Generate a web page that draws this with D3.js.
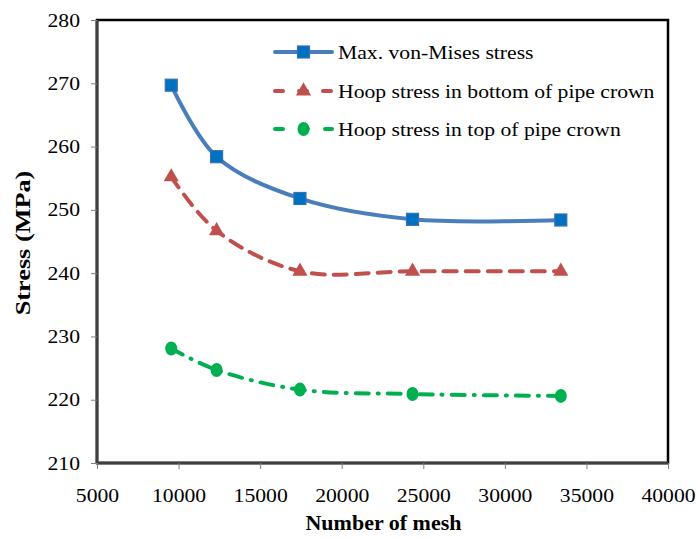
<!DOCTYPE html>
<html><head><meta charset="utf-8">
<script src="https://cdn.jsdelivr.net/npm/d3@7"></script>
<style>body{margin:0;background:#fff}svg{display:block}</style>
</head><body>
<svg id="c" width="697" height="539"></svg>
<script>
const meshX = [9550, 12330, 17440, 24340, 33430];
const vonMises = [269.7, 258.4, 251.8, 248.5, 248.4];
const hoopBottom = [255.2, 246.7, 240.3, 240.3, 240.3];
const hoopTop = [228.1, 224.7, 221.6, 220.9, 220.6];
const xTicks = [5000,10000,15000,20000,25000,30000,35000,40000];
const yTicks = [210,220,230,240,250,260,270,280];
const seriesNames = ["Max. von-Mises stress","Hoop stress in bottom of pipe crown","Hoop stress in top of pipe crown"];

const svg = d3.select("#c");
const L=97, R=668, T=20, B=463;
const x = d3.scaleLinear().domain([5000,40000]).range([L,R]);
const y = d3.scaleLinear().domain([210,280]).range([B,T]);
const font = "'Liberation Serif','Times New Roman',serif";

function stretch(sel, f){
  sel.each(function(){
    const w = this.getComputedTextLength();
    d3.select(this).attr("textLength", w*f).attr("lengthAdjust","spacingAndGlyphs");
  });
}

// frame
svg.append("rect").attr("x",L).attr("y",T).attr("width",R-L).attr("height",B-T)
  .attr("fill","none").attr("stroke","#000").attr("stroke-width",2.5);
svg.append("line").attr("x1",L).attr("x2",L).attr("y1",T).attr("y2",B+1).attr("stroke","#404040").attr("stroke-width",3);
svg.append("line").attr("x1",L-1).attr("x2",R).attr("y1",B).attr("y2",B).attr("stroke","#404040").attr("stroke-width",3);

const xa = svg.append("g").attr("transform",`translate(0,${B})`)
  .call(d3.axisBottom(x).tickValues(xTicks).tickFormat(d3.format("d")).tickSize(6).tickPadding(8));
const ya = svg.append("g").attr("transform",`translate(${L},0)`)
  .call(d3.axisLeft(y).tickValues(yTicks).tickFormat(d3.format("d")).tickSize(6).tickPadding(11));
[xa,ya].forEach(a=>{
  a.select(".domain").remove();
  a.selectAll(".tick line").attr("stroke","#808080").attr("stroke-width",1);
  a.selectAll("text").attr("font-family",font).attr("font-size",19).attr("fill","#000");
});
xa.selectAll("text").attr("dy",null).attr("y",39);
stretch(xa.selectAll("text"),1.14);
stretch(ya.selectAll("text"),1.14);

const xl = svg.append("text").attr("x",(L+R)/2+1).attr("y",530).attr("text-anchor","middle")
  .attr("font-family",font).attr("font-weight","bold").attr("font-size",20).text("Number of mesh");
stretch(xl,1.1);
const yl = svg.append("text").attr("transform",`translate(30,243) rotate(-90)`).attr("text-anchor","middle")
  .attr("font-family",font).attr("font-weight","bold").attr("font-size",21).text("Stress (MPa)");
stretch(yl,1.25);

const line = d3.line().x(d=>x(d[0])).y(d=>y(d[1])).curve(d3.curveCatmullRom.alpha(0.5));
const blue="#4A7EBB", red="#C0504D", green="#00B050";
const series = [
  {vals:vonMises, color:blue, dash:null, marker:"square", mfill:"#0070C0", name:seriesNames[0]},
  {vals:hoopBottom, color:red, dash:"13,9", marker:"triangle", mfill:red, name:seriesNames[1]},
  {vals:hoopTop, color:green, dash:"13,9,1,9", marker:"circle", mfill:green, name:seriesNames[2]}
];
function drawMarker(g, type, cx, cy, fill){
  if(type==="square"){
    g.append("rect").attr("x",cx-6).attr("y",cy-6).attr("width",12).attr("height",12)
      .attr("fill",fill).attr("stroke","#3A6FB0").attr("stroke-width",1.2);
  } else if(type==="triangle"){
    g.append("path").attr("d",d3.symbol().type(d3.symbolTriangle).size(100)())
      .attr("transform",`translate(${cx},${cy})`).attr("fill",fill);
  } else {
    g.append("ellipse").attr("cx",cx).attr("cy",cy).attr("rx",6).attr("ry",7).attr("fill",fill);
  }
}
series.forEach(s=>{
  const pts = meshX.map((m,i)=>[m,s.vals[i]]);
  const p = svg.append("path").datum(pts).attr("d",line).attr("fill","none")
    .attr("stroke",s.color).attr("stroke-width",4).attr("stroke-linecap","round");
  if(s.dash) p.attr("stroke-dasharray",s.dash);
  const g = svg.append("g");
  pts.forEach(d=>drawMarker(g,s.marker,x(d[0]),y(d[1]),s.mfill));
});

// legend
const lg = svg.append("g");
const rowsY=[52,91,129];
series.forEach((s,i)=>{
  const yy=rowsY[i];
  const l = lg.append("line").attr("x1",275).attr("x2",332).attr("y1",yy).attr("y2",yy)
    .attr("stroke",s.color).attr("stroke-width",4).attr("stroke-linecap","round");
  if(s.dash) l.attr("stroke-dasharray", i===1?"8,16":"8,17");
  drawMarker(lg,s.marker,303.5,yy,s.mfill);
  const t = lg.append("text").attr("x",338).attr("y",yy).attr("dy","0.35em").attr("font-family",font)
    .attr("font-size",19).attr("fill","#000").text(s.name);
  stretch(t,1.14);
});
</script>
</body></html>
